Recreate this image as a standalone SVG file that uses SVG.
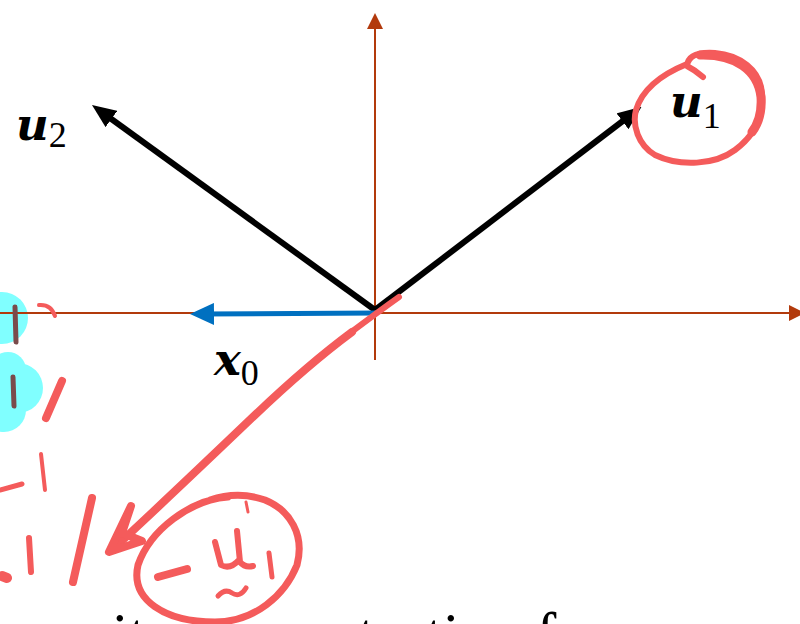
<svg xmlns="http://www.w3.org/2000/svg" width="800" height="624" viewBox="0 0 800 624">
  <style>
    .axis { stroke: #B23A0C; stroke-width: 2; fill: none; }
    .vec { stroke: #000; stroke-width: 6; fill: none; }
    .x0 { stroke: #0070C0; stroke-width: 5; fill: none; }
    .lbl { font-family: "DejaVu Serif", "Liberation Serif", serif; font-weight: bold; font-style: italic; font-size: 45px; fill: #000; }
    .sub { font-family: "Liberation Serif", "DejaVu Serif", serif; font-weight: normal; font-style: normal; font-size: 36px; }
    .ink { stroke: #F45B5B; fill: none; stroke-linecap: round; stroke-linejoin: round; }
    .ink2 { stroke: #7A4B4B; fill: none; stroke-linecap: round; stroke-width: 5; }
    .hl { fill: #80FFFF; }
    .body { font-family: "Liberation Serif", "Times New Roman", serif; font-size: 61px; fill: #000; }
  </style>
  <defs>
    <marker id="axHead" markerUnits="userSpaceOnUse" viewBox="0 0 16 16" refX="2" refY="8" markerWidth="16" markerHeight="16" orient="auto">
      <path d="M0,0 L16,8 L0,16 z" fill="#B23A0C"/>
    </marker>
    <marker id="blkHead" markerUnits="userSpaceOnUse" viewBox="0 0 24 20" refX="12" refY="10" markerWidth="24" markerHeight="20" orient="auto">
      <path d="M0,0 L24,10 L0,20 z" fill="#000"/>
    </marker>
    <marker id="bluHead" markerUnits="userSpaceOnUse" viewBox="0 0 24 22" refX="12" refY="11" markerWidth="24" markerHeight="22" orient="auto">
      <path d="M0,0 L24,11 L0,22 z" fill="#0070C0"/>
    </marker>
  </defs>

  <rect width="800" height="624" fill="#fff"/>

  <!-- highlighter -->
  <g id="highlight">
    <circle class="hl" cx="2" cy="318" r="26"/>
    <circle class="hl" cx="8" cy="370" r="18"/>
    <circle class="hl" cx="18" cy="388" r="25"/>
    <circle class="hl" cx="4" cy="410" r="22"/>
  </g>

  <g id="connectors">
    <line id="axis-x" class="axis" x1="0" y1="313" x2="791" y2="313" marker-end="url(#axHead)"/>
    <line id="axis-y" class="axis" x1="375" y1="360" x2="375" y2="27" marker-end="url(#axHead)"/>
    <line id="arrow-u1" class="vec" x1="375" y1="310" x2="632" y2="114" marker-end="url(#blkHead)"/>
    <line id="arrow-u2" class="vec" x1="375" y1="310" x2="101.7" y2="112" marker-end="url(#blkHead)"/>
    <line id="arrow-x0" class="x0" x1="377" y1="313" x2="202" y2="314" marker-end="url(#bluHead)"/>
  </g>

  <g id="u2">
    <text class="lbl" x="16" y="140">u<tspan class="sub" dy="7">2</tspan></text>
  </g>
  <g id="u1">
    <text class="lbl" x="670" y="117">u<tspan class="sub" dy="11">1</tspan></text>
  </g>
  <g id="x0">
    <text class="lbl" x="214" y="375">x<tspan class="sub" dy="10">0</tspan></text>
  </g>

  <text class="body" y="655"><tspan x="-78">composite</tspan><tspan x="270">contortion for</tspan></text>

  <!-- pen annotations -->
  <g id="ink">
    <!-- circle around u1 -->
    <path class="ink" stroke-width="6" d="M703,77 Q695,70 687,66 C688,55 700,52 715,53 C740,55 760,70 762,93 C764,115 755,135 735,150 C715,165 680,167 655,155 C638,145 632,125 636,110 C642,90 660,75 687,64"/>
    <path class="ink" stroke-width="9" d="M700,55 C735,54 758,70 761,97 C762,112 758,124 752,132"/>
    <!-- long arrow to -u1 -->
    <path class="ink" stroke-width="6" d="M399,297 C385,307 370,318 350,333"/>
    <path class="ink" stroke-width="8" d="M352,332 C325,352 295,377 255,415 C210,458 150,515 113,549"/>
    <path class="ink" stroke-width="8" fill="#F45B5B" d="M131,506 L109,552 L142,541 L122,533 Z"/>
    <!-- circle around -u1 -->
    <path class="ink" stroke-width="7" d="M228,497 C190,500 150,530 138,565 C130,600 165,622 215,622 C255,622 285,595 297,565 C305,535 290,510 265,500 C245,493 225,495 210,500"/>
    <path class="ink" stroke-width="3" d="M246,502 L248,512"/>
    <path class="ink" stroke-width="8" d="M158,577 L187,569"/>
    <path class="ink" stroke-width="6" d="M215,542 L221,565 Q230,570 239,560 M237,531 L240,562 Q245,568 253,566"/>
    <path class="ink" stroke-width="5" d="M218,596 Q225,588 232,593 Q240,598 246,588"/>
    <path class="ink" stroke-width="5" d="M269,553 L272,577"/>
    <!-- left marks -->
    <path class="ink" stroke-width="4" d="M39,305 Q51,304 55,316"/>
    <path class="ink" stroke-width="8" d="M62,381 L46,418"/>
    <path class="ink" stroke-width="4" d="M41,454 L45,490"/>
    <path class="ink" stroke-width="5" d="M0,490 L22,484"/>
    <path class="ink" stroke-width="6" d="M29,538 L31,572"/>
    <path class="ink" stroke-width="10" d="M2,576 L7,578"/>
    <path class="ink" stroke-width="8" d="M92,498 L73,582"/>
    <path class="ink2" d="M15,307 L16,342"/>
    <path class="ink2" d="M13,377 L14,406"/>
  </g>
</svg>
